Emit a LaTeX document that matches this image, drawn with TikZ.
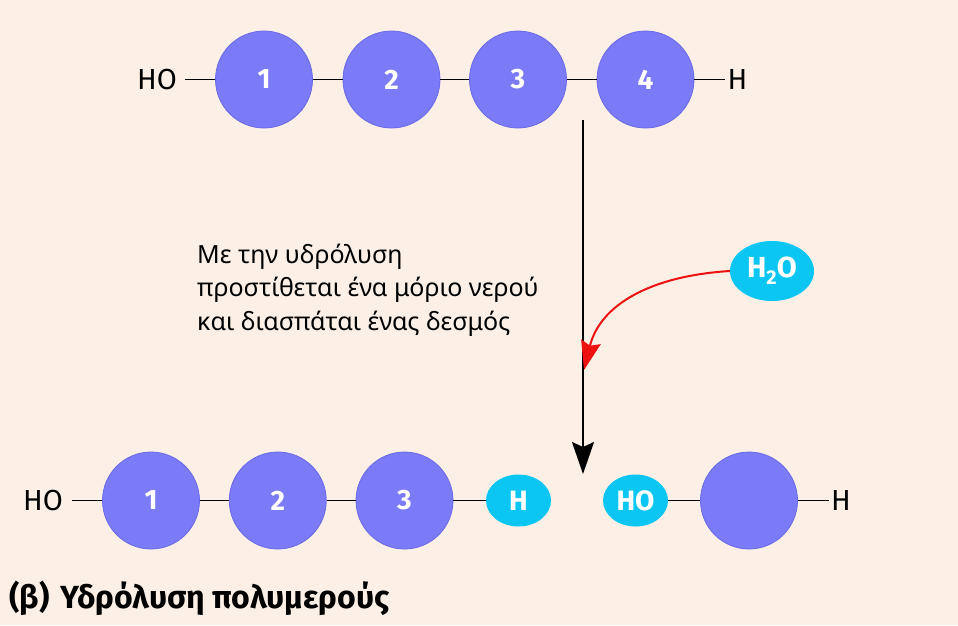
\documentclass[tikz,border=0pt]{standalone}
\usepackage{fontspec}
\setmainfont{Fira Sans}
\newfontfamily\paraf{Noto Sans}
\usetikzlibrary{shapes.geometric,arrows.meta}
\definecolor{bgc}{HTML}{FCF0E6}
\definecolor{purp}{HTML}{7B7BF7}
\definecolor{purpd}{HTML}{6A6AE6}
\definecolor{cyanc}{HTML}{0BC6F2}
\definecolor{redc}{HTML}{EE1111}
\tikzset{
  mono/.style={ellipse, fill=purp, draw=purpd, line width=0.8pt, minimum width=97pt, minimum height=97pt, inner sep=0pt, text=white, font=\fontsize{28}{28}\selectfont\bfseries},
  cyel/.style={ellipse, fill=cyanc, minimum width=65pt, minimum height=52pt, inner sep=0pt, text=white, font=\fontsize{28}{28}\selectfont\bfseries},
  lbl/.style={inner sep=0pt, font=\fontsize{29}{29}\selectfont},
  bond/.style={line width=1.5pt, black},
  para/.style={inner sep=0pt, anchor=base west, font=\paraf\fontsize{25}{25}\selectfont},
}
\begin{document}
\begin{tikzpicture}[x=1pt,y=-1pt]
\useasboundingbox (0,0) rectangle (958,625);
\fill[bgc] (0,0) rectangle (958,625);
% top row
\node[lbl] (tho) at (157,79.5) {HO};
\node[mono] (t1) at (264,79.5) {1};
\node[mono] (t2) at (391.5,79.5) {2};
\node[mono] (t3) at (518,79.5) {3};
\node[mono] (t4) at (645.5,79.5) {4};
\node[lbl] (th) at (737.5,79.5) {H};
\draw[bond] ([xshift=8pt]tho.east) -- (t1);
\draw[bond] (t1) -- (t2);
\draw[bond] (t2) -- (t3);
\draw[bond] (t3) -- (t4);
\draw[bond] (t4) -- ([xshift=-2pt]th.west);
% main arrow
\coordinate (astart) at (583,120);
\coordinate (aend) at (583,474);
\draw[line width=1.8pt, -{Stealth[length=32pt,width=22pt,inset=5pt]}] (astart) -- (aend);
% text
\node[para] (p1) at (197,263) {Με την υδρόλυση};
\node[para] (p2) at (197,296.5) {προστίθεται ένα μόριο νερού};
\node[para] (p3) at (197,330) {και διασπάται ένας δεσμός};
% water
\node[ellipse, fill=cyanc, minimum width=84pt, minimum height=60pt, inner sep=0pt, text=white, font=\fontsize{29}{29}\selectfont\bfseries] (w) at (772,271) {H\raisebox{-7pt}{\fontsize{20}{20}\selectfont 2}O};
\coordinate (rend) at (584,370);
\draw[redc, line width=2pt, -{Stealth[length=29pt,width=20pt,inset=4pt]}] (w.west) .. controls (650,276) and (600,305) .. (rend);
% bottom row
\node[lbl] (bho) at (43,500.5) {HO};
\node[mono] (b1) at (151,500.5) {1};
\node[mono] (b2) at (277.75,500.5) {2};
\node[mono] (b3) at (404.5,500.5) {3};
\node[cyel] (bh) at (518.5,500.5) {H};
\node[cyel] (bho2) at (635.5,500.5) {HO};
\node[mono] (b5) at (749,500.5) {};
\node[lbl] (bhe) at (841,500.5) {H};
\draw[bond] ([xshift=9pt]bho.east) -- (b1);
\draw[bond] (b1) -- (b2);
\draw[bond] (b2) -- (b3);
\draw[bond] (b3) -- (bh);
\draw[bond] (bho2) -- (b5);
\draw[bond] (b5) -- ([xshift=-2pt]bhe.west);
% title
\node[inner sep=0pt, anchor=base west, font=\fontsize{32}{32}\selectfont\bfseries] (title) at (9,608) {(β)\,\,Υδρόλυση πολυμερούς};
\end{tikzpicture}
\end{document}
